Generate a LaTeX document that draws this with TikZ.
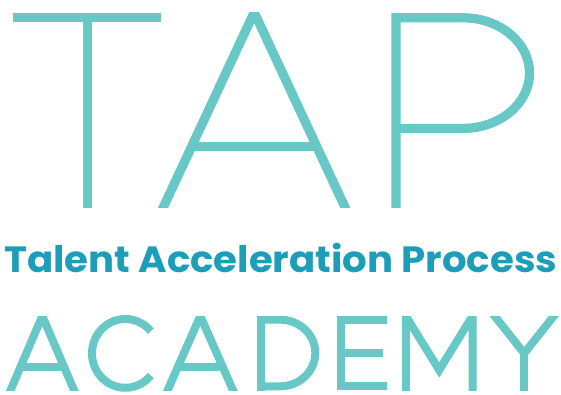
\documentclass[tikz,border=0pt]{standalone}
\usepackage{fontspec}
\newfontfamily\popfont{Poppins}
\definecolor{lteal}{RGB}{103,200,198}
\definecolor{dteal}{RGB}{28,157,184}
\begin{document}
\begin{tikzpicture}[x=1pt,y=-1pt,
  big/.style={draw=lteal,line width=9.2pt,line join=miter,line cap=butt},
  small/.style={draw=lteal,line width=8pt,line join=miter,line cap=butt}]
\useasboundingbox (0,0) rectangle (561,395);
% TAP
\begin{scope}
\clip (0,12.3) rectangle (561,207.3);
% T
\draw[big] (13.3,17.8) -- (161.3,17.8);
\draw[big] (87.2,17.8) -- (87.2,212);
% A
\draw[big] (161.1,212) -- (254.2,12.3) -- (347.2,212);
\draw[big] (191.7,146.5) -- (316.7,146.5);
% P
\draw[big] (395.9,212) -- (395.9,17.8) -- (463,17.8)
  .. controls (499.7,17.8) and (529.5,42.4) .. (529.5,73.05)
  .. controls (529.5,103.7) and (499.7,128.4) .. (463,128.4) -- (395.9,128.4);
\end{scope}
% subtitle
\node[anchor=south west,inner sep=0,text=dteal] (sub) at (4,272.6)
  {\resizebox{553pt}{29.3pt}{\popfont\bfseries Talent Acceleration Process}};
% ACADEMY
\begin{scope}
\clip (0,316) rectangle (561,390.3);
% A
\draw[small] (8.5,395) -- (42.3,316) -- (76.1,395);
\draw[small] (20.6,366.7) -- (64,366.7);
% A
\draw[small] (165.5,395) -- (200.3,316) -- (235.1,395);
\draw[small] (177.8,366.7) -- (222.8,366.7);
% D
\draw[small] (261.2,395) -- (261.2,319.7) -- (280,319.7)
  .. controls (299.5,319.7) and (315.3,334.6) .. (315.3,353)
  .. controls (315.3,371.4) and (299.5,386.3) .. (280,386.3) -- (257,386.3);
% E
\draw[small] (386.7,319.7) -- (340.8,319.7) -- (340.8,386.3) -- (386.7,386.3);
\draw[small] (340.8,353) -- (383.3,353);
% M
\draw[small] (405.8,395) -- (405.8,316) -- (439.2,370) -- (472.5,316) -- (472.5,395);
% Y
\draw[small] (490.6,311) -- (524.2,353.3) -- (557.8,311);
\draw[small] (524.2,353.3) -- (524.2,395);
\end{scope}
% C
\draw[small] (125.3,353.35) ++(40:33.3 and 34.4) arc[start angle=40,end angle=320,x radius=33.3,y radius=34.4];
\end{tikzpicture}
\end{document}
